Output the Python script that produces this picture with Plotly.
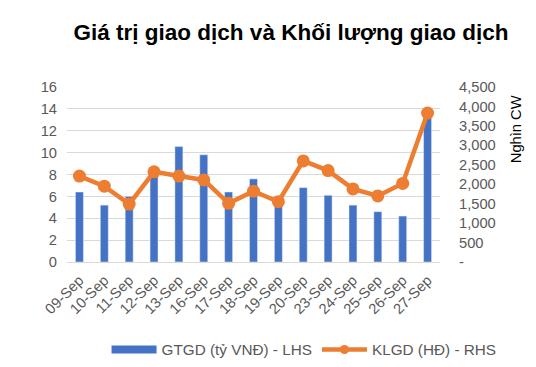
import plotly.graph_objects as go

dates = ["09-Sep", "10-Sep", "11-Sep", "12-Sep", "13-Sep", "16-Sep", "17-Sep", "18-Sep",
         "19-Sep", "20-Sep", "23-Sep", "24-Sep", "25-Sep", "26-Sep", "27-Sep"]
gtgd = [6.4, 5.2, 6.0, 8.0, 10.55, 9.8, 6.4, 7.6, 5.5, 6.8, 6.1, 5.2, 4.6, 4.2, 13.3]
klgd = [2210, 1950, 1490, 2320, 2210, 2110, 1510, 1820, 1550, 2600, 2350, 1880, 1700, 2020, 3830]

left_ticks = [0, 2, 4, 6, 8, 10, 12, 14, 16]
right_ticks = [0, 500, 1000, 1500, 2000, 2500, 3000, 3500, 4000, 4500]
right_labels = ["-"] + [f"{v:,}" for v in right_ticks[1:]]

FONT = "Liberation Sans, Arial, sans-serif"
GREY = "#595959"
BLUE = "#4472c4"
ORANGE = "#ed7d31"
FS = 14.7

fig = go.Figure()
fig.add_trace(go.Bar(x=dates, y=gtgd, name="GTGD (tỷ VNĐ) - LHS",
                     marker_color=BLUE, yaxis="y", showlegend=False))
fig.add_trace(go.Scatter(x=dates, y=klgd, name="KLGD (HĐ) - RHS", yaxis="y2",
                         mode="lines+markers", showlegend=False,
                         line=dict(color=ORANGE, width=4.5),
                         marker=dict(color=ORANGE, size=13)))
# legend-only entries drawn like the original's swatches
fig.add_trace(go.Scatter(x=[dates[0]], y=[None], name="GTGD (tỷ VNĐ) - LHS",
                         mode="lines", line=dict(color=BLUE, width=8), yaxis="y"))
fig.add_trace(go.Scatter(x=[dates[0]], y=[None], name="KLGD (HĐ) - RHS", yaxis="y2",
                         mode="lines+markers", line=dict(color=ORANGE, width=4.5),
                         marker=dict(color=ORANGE, size=9)))

fig.update_layout(
    width=528, height=359,
    margin=dict(l=59, r=96, t=79.3, b=105.3, autoexpand=False),
    paper_bgcolor="white", plot_bgcolor="white",
    font=dict(family=FONT, size=FS, color=GREY),
    title=dict(text="<b>Giá trị giao dịch và Khối lượng giao dịch</b>",
               x=0.536, xanchor="center", y=0.933, yanchor="middle",
               font=dict(family=FONT, size=22.5, color="black")),
    bargap=0.68,
    showlegend=True,
    legend=dict(orientation="h", x=1.165, xanchor="right", y=-0.50, yanchor="middle",
                font=dict(family=FONT, size=15.3, color=GREY), itemwidth=45,
                traceorder="normal", bgcolor="rgba(0,0,0,0)"),
    xaxis=dict(type="category", categoryorder="array", categoryarray=dates,
               range=[-0.5, len(dates) - 0.5], tickangle=-45, showgrid=False,
               showline=False, ticks="", automargin=False, ticklabelstandoff=6,
               tickfont=dict(family=FONT, size=FS, color=GREY)),
    yaxis=dict(range=[0, 16], tickvals=left_ticks, showgrid=True, gridcolor="#d9d9d9",
               gridwidth=1.2, zeroline=True, zerolinecolor="#d9d9d9", zerolinewidth=1.2,
               showline=False, ticks="", automargin=False, ticklabelstandoff=9,
               tickfont=dict(family=FONT, size=FS, color=GREY)),
    yaxis2=dict(range=[0, 4500], tickvals=right_ticks, ticktext=right_labels,
                overlaying="y", side="right", showgrid=False, zeroline=False,
                ticks="", automargin=False, ticklabelstandoff=18,
                tickfont=dict(family=FONT, size=FS, color=GREY)),
    annotations=[dict(text="Nghìn CW", textangle=-90, xref="paper", yref="paper",
                      x=1.206, y=0.758, xanchor="center", yanchor="middle",
                      showarrow=False, font=dict(family=FONT, size=FS, color="black"))],
)

fig.write_html("out.html")
